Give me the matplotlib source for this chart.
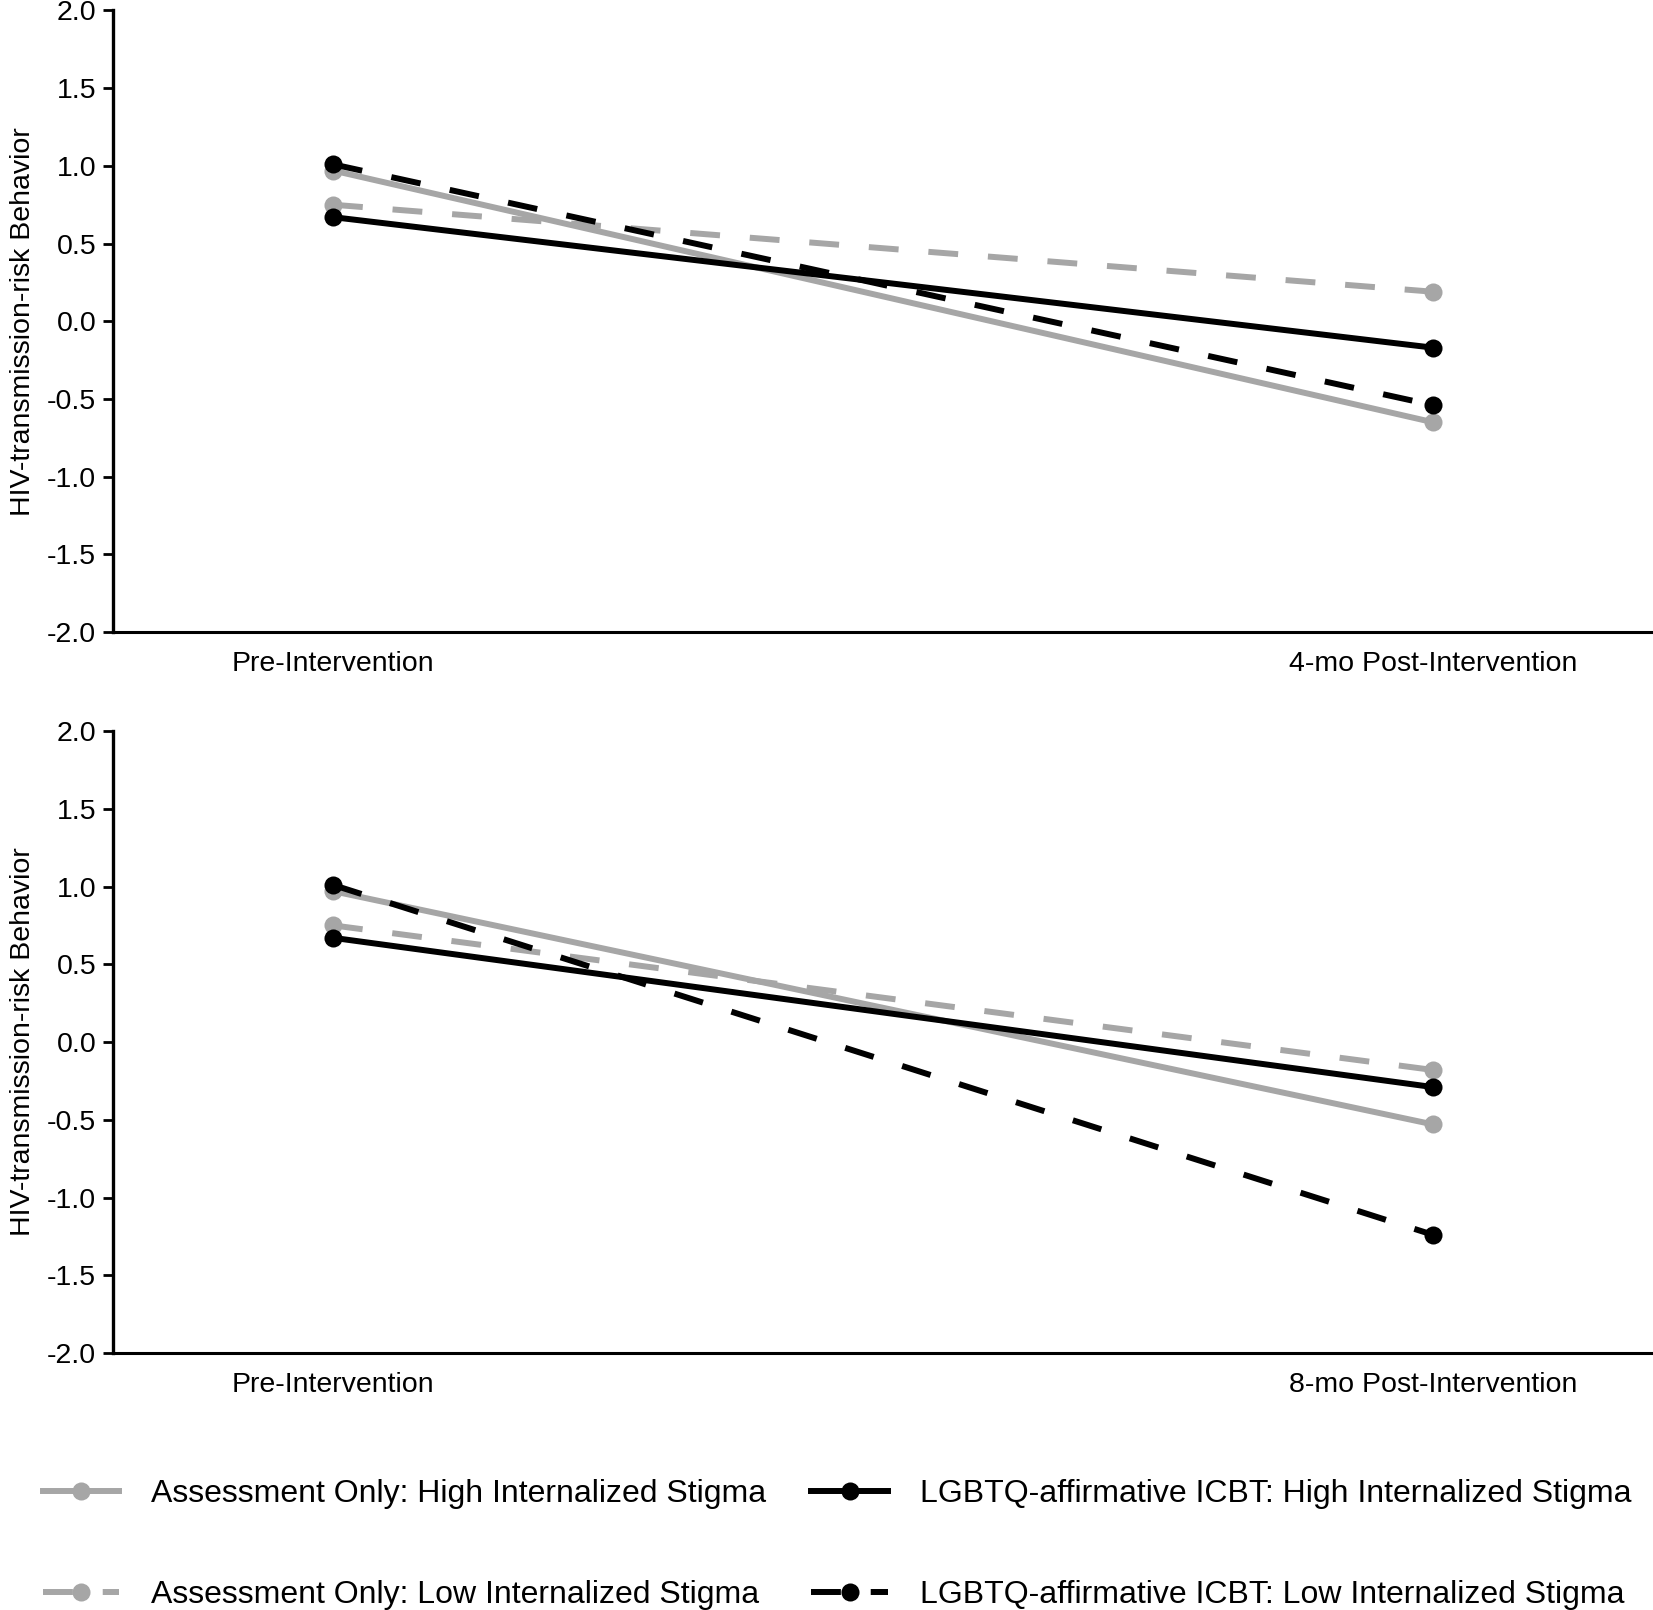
import matplotlib.pyplot as plt
from matplotlib.lines import Line2D

plt.rcParams['font.family'] = ['Liberation Sans', 'DejaVu Sans']

# Zeitpunkte
zeit_oben = ['Pre-Intervention', '4-mo Post-Intervention']
zeit_unten = ['Pre-Intervention', '8-mo Post-Intervention']

# Werte oben (4 Monate)
ao_high_4 = [0.97, -0.65]
ao_low_4 = [0.75, 0.19]
icbt_high_4 = [0.67, -0.17]
icbt_low_4 = [1.01, -0.54]

# Werte unten (8 Monate)
ao_high_8 = [0.97, -0.53]
ao_low_8 = [0.75, -0.18]
icbt_high_8 = [0.67, -0.29]
icbt_low_8 = [1.01, -1.24]

labels = ['Assessment Only: High Internalized Stigma',
          'Assessment Only: Low Internalized Stigma',
          'LGBTQ-affirmative ICBT: High Internalized Stigma',
          'LGBTQ-affirmative ICBT: Low Internalized Stigma']
yticks = [-2.0, -1.5, -1.0, -0.5, 0.0, 0.5, 1.0, 1.5, 2.0]

grau = '#a6a6a6'
schwarz = '#000000'
lw = 4.3
ms = 13
gestrichelt = (0, (5, 5))
stile = [(grau, '-'), (grau, gestrichelt), (schwarz, '-'), (schwarz, gestrichelt)]

fig = plt.figure(figsize=(16.53, 16.10), dpi=100)
ax1 = fig.add_axes([113/1653, 1-632/1610, 1-113/1653, (632-10.5)/1610])
ax2 = fig.add_axes([113/1653, 1-1353/1610, 1-113/1653, (1353-731)/1610])


def panel(ax, reihen, zeit):
    x = [0, 1]
    for (farbe, ls), y in zip(stile, reihen):
        ax.plot(x, y, color=farbe, linestyle=ls, linewidth=lw,
                marker='o', markersize=ms, markeredgewidth=0)
    ax.set_xlim(-0.2, 1.2)
    ax.set_ylim(-2, 2)
    ax.set_yticks(yticks)
    ax.set_yticklabels([f'{v:.1f}' for v in yticks])
    ax.set_xticks(x)
    ax.set_xticklabels(zeit)
    for s in ['top', 'right']:
        ax.spines[s].set_visible(False)
    ax.spines['left'].set_linewidth(2.4)
    ax.spines['bottom'].set_linewidth(2.2)
    ax.tick_params(axis='y', length=7, width=2, labelsize=20.5, pad=5)
    ax.tick_params(axis='x', length=0, labelsize=20.5, pad=14)
    ax.set_ylabel('HIV-transmission-risk Behavior', fontsize=20.5, labelpad=8)


panel(ax1, [ao_high_4, ao_low_4, icbt_high_4, icbt_low_4], zeit_oben)
panel(ax2, [ao_high_8, ao_low_8, icbt_high_8, icbt_low_8], zeit_unten)

handles = [Line2D([0], [0], color=f, linestyle=ls, linewidth=lw, marker='o',
                  markersize=ms, markeredgewidth=0) for f, ls in stile]
fig.legend(handles, labels, ncol=2, frameon=False, fontsize=23,
           loc='upper left', bbox_to_anchor=(14/1653, 1-1450/1610),
           handlelength=2.4, handletextpad=1.0, labelspacing=2.23,
           columnspacing=1.4)

fig.savefig('out.png', dpi=100)
